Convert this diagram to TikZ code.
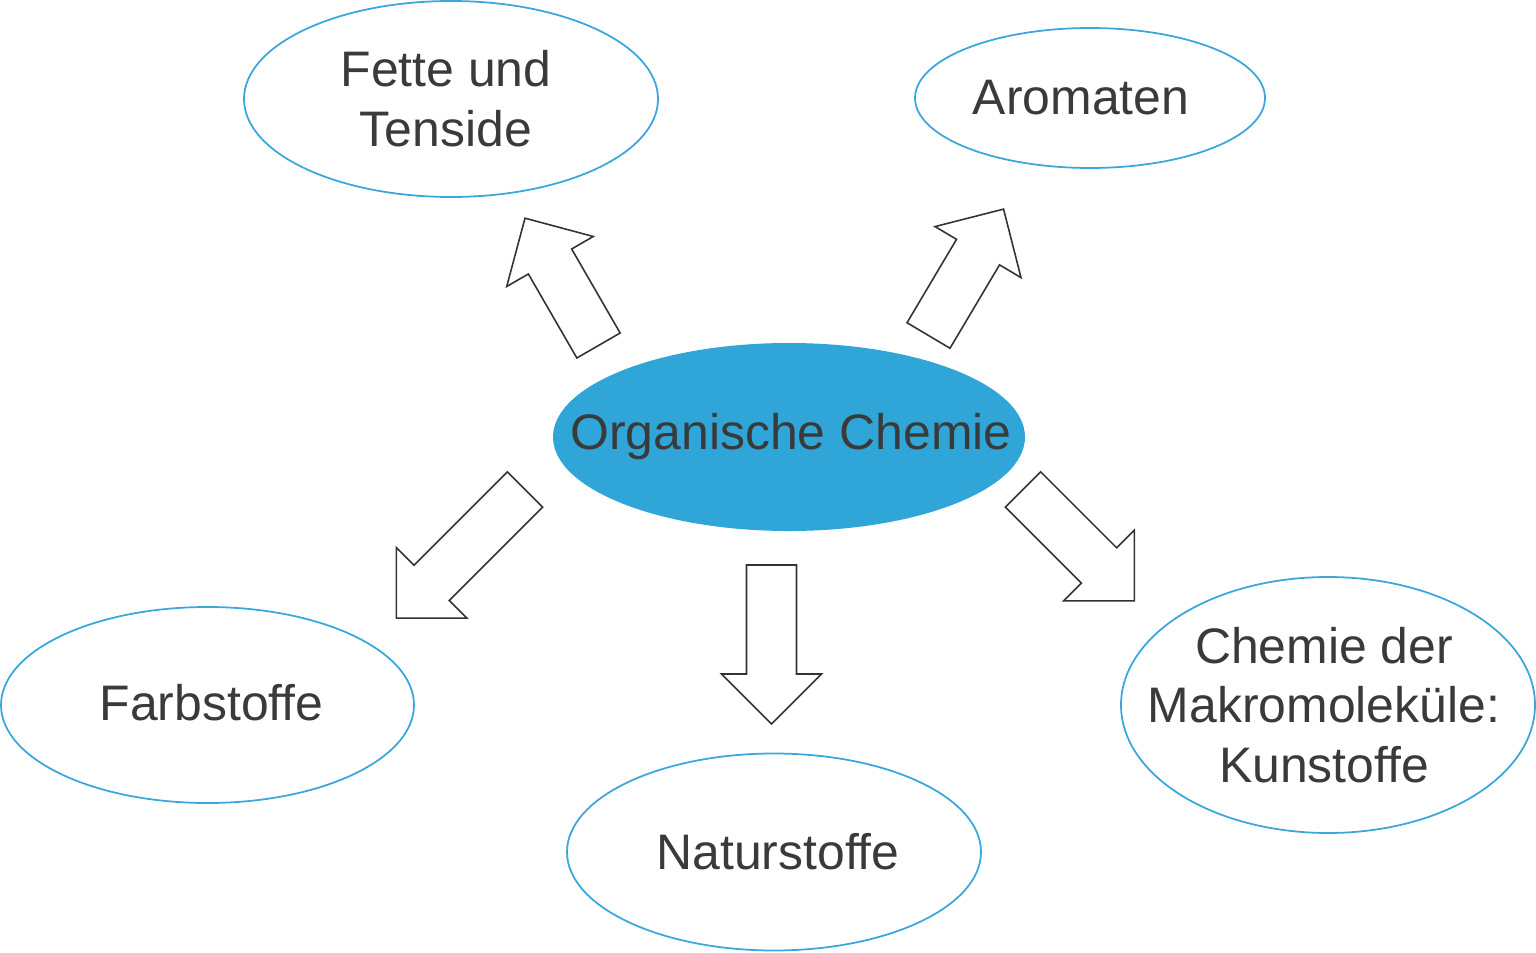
\documentclass[tikz,border=0pt]{standalone}
\usepackage{fontspec}
\setmainfont{Liberation Sans}
\usetikzlibrary{shapes.geometric}

\definecolor{chemblue}{RGB}{48,165,216}
\definecolor{rimblue}{RGB}{58,166,220}
\definecolor{txtgray}{RGB}{58,58,58}
\definecolor{arrowgray}{RGB}{51,51,51}

\tikzset{
  bubble/.style={ellipse, draw=rimblue, line width=0.5pt, inner sep=0pt,
    minimum width=4.14cm, minimum height=1.96cm},
  txt/.style={align=center, text=txtgray, font=\fontsize{14.2}{17}\selectfont},
  arrowline/.style={draw=arrowgray, line width=0.45pt, fill=white}
}

% block arrow: tail centre, direction, shaft length
\newcommand{\blockarrow}[3]{%
  \begin{scope}[shift={#1}, rotate=#2]
    \draw[arrowline] (0,-0.25) -- ++(#3,0) -- ++(0,-0.25) -- ++(0.5,0.5)
      -- ++(-0.5,0.5) -- ++(0,-0.25) -- (0,0.25) -- cycle;
  \end{scope}}

\begin{document}
\begin{tikzpicture}
\useasboundingbox (0,0) rectangle (15.36,9.52);

% centre
\node[bubble, draw=none, fill=chemblue, minimum width=4.72cm, minimum height=1.88cm,
  label={[txt, xshift=0.02cm]center:Organische Chemie}] (oc) at (7.89,5.15) {};

% topics
\node[bubble, label={[txt, xshift=-0.05cm]center:Fette und\\Tenside}] (fette) at (4.51,8.53) {};
\node[bubble, minimum width=3.5cm, minimum height=1.4cm,
  label={[txt, xshift=-0.09cm]center:Aromaten}] (arom) at (10.90,8.54) {};
\node[bubble, minimum width=4.13cm,
  label={[txt, xshift=0.04cm, yshift=0.02cm]center:Farbstoffe}] (farb) at (2.075,2.47) {};
\node[bubble, minimum height=1.97cm,
  label={[txt, xshift=0.04cm]center:Naturstoffe}] (natur) at (7.74,1.0) {};
\node[bubble, minimum height=2.56cm,
  label={[txt, xshift=-0.04cm]center:Chemie der\\Makromoleküle:\\Kunstoffe}] (makro) at (13.28,2.47) {};

% arrows
\blockarrow{(5.985,6.065)}{120}{0.97}
\blockarrow{(9.285,6.165)}{59.3}{0.97}
\blockarrow{(5.25,4.625)}{225}{1.32}
\blockarrow{(7.715,3.87)}{-90}{1.09}
\blockarrow{(10.23,4.625)}{-45}{1.075}
\end{tikzpicture}
\end{document}
